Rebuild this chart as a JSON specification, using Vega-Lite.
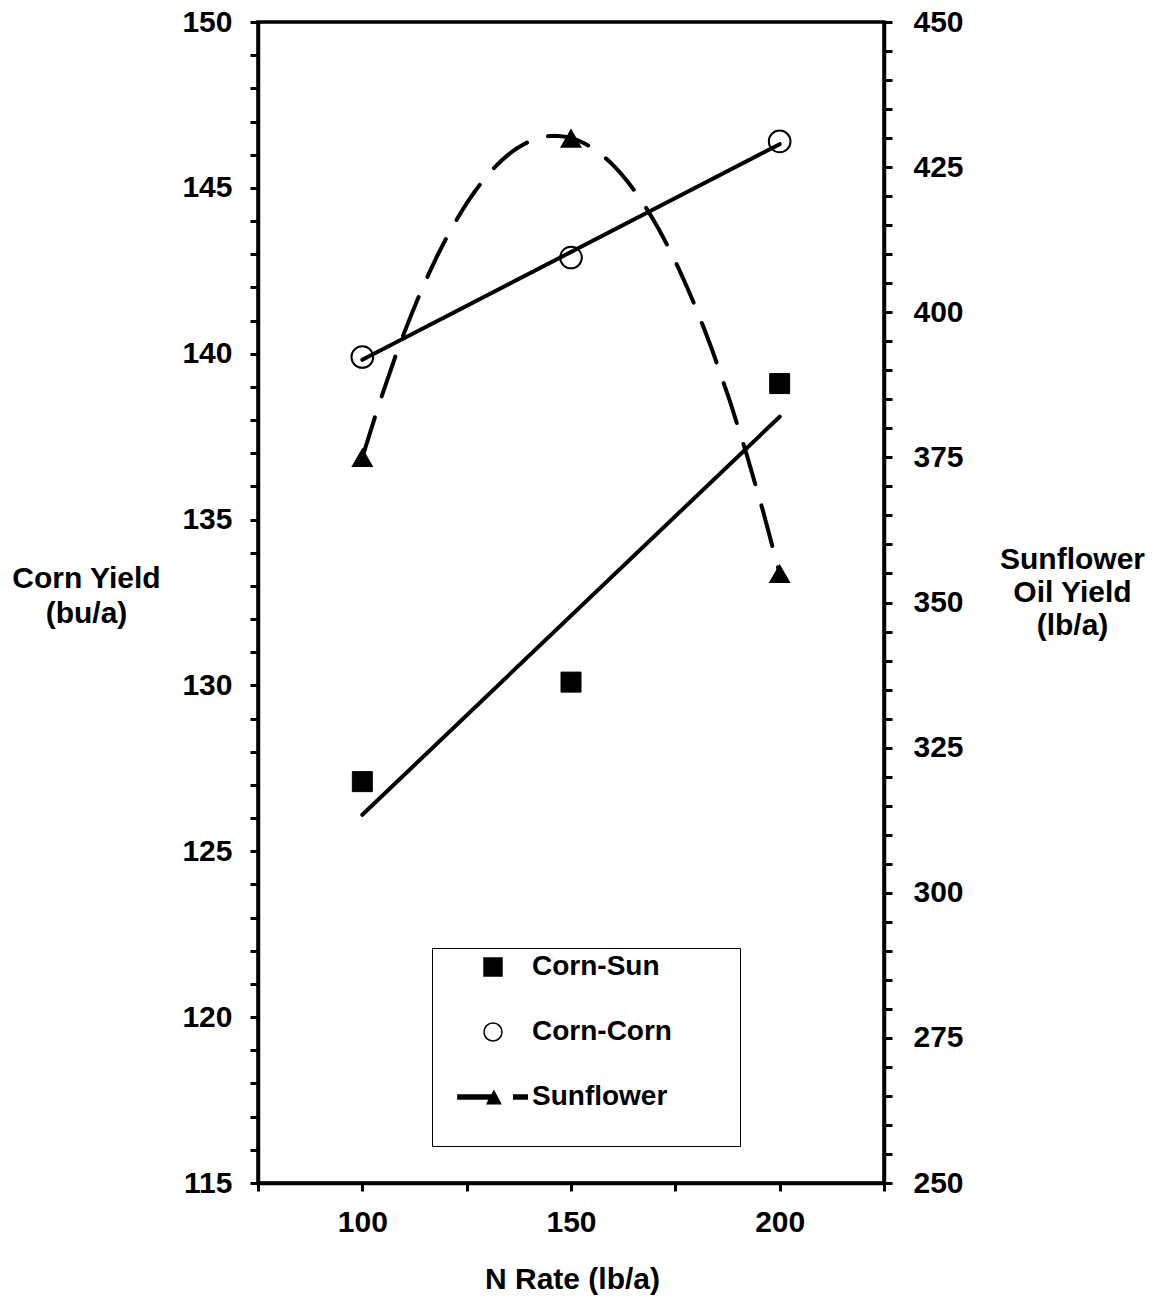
{
  "$schema": "https://vega.github.io/schema/vega-lite/v6.json",
  "width": 626,
  "height": 1161,
  "autosize": "none",
  "padding": {"left": 258, "top": 22, "right": 272, "bottom": 116},
  "background": "white",
  "data": {
    "values": [
      {"series": "Corn-Sun", "n": 100, "value": 127.1},
      {"series": "Corn-Sun", "n": 150, "value": 130.1},
      {"series": "Corn-Sun", "n": 200, "value": 139.1},
      {"series": "Corn-Corn", "n": 100, "value": 139.9},
      {"series": "Corn-Corn", "n": 150, "value": 142.9},
      {"series": "Corn-Corn", "n": 200, "value": 146.4},
      {"series": "Sunflower", "n": 100, "value": 375},
      {"series": "Sunflower", "n": 150, "value": 430},
      {"series": "Sunflower", "n": 200, "value": 355}
    ]
  },
  "encoding": {
    "x": {
      "field": "n",
      "type": "quantitative",
      "scale": {"domain": [75, 225], "nice": false, "zero": false},
      "axis": {
        "values": [75, 100, 125, 150, 175, 200, 225],
        "labelExpr": "datum.value % 50 === 0 ? datum.label : ''",
        "tickSize": 8,
        "tickWidth": 3,
        "tickColor": "black",
        "domainColor": "black",
        "domainWidth": 3.5,
        "grid": false,
        "labelFont": "Liberation Sans",
        "labelFontSize": 30,
        "labelFontWeight": "bold",
        "labelColor": "black",
        "labelBaseline": "alphabetic",
        "labelPadding": 40,
        "labelOverlap": false,
        "labelFlush": false,
        "title": "N Rate (lb/a)",
        "titleFont": "Liberation Sans",
        "titleFontSize": 30,
        "titleFontWeight": "bold",
        "titleColor": "black",
        "titleX": 314,
        "titleY": 105,
        "titleAlign": "center",
        "titleBaseline": "alphabetic",
        "encode": {"ticks": {"update": {"y": {"value": -5}, "y2": {"value": 8}}}}
      }
    }
  },
  "layer": [
    {
      "encoding": {
        "y": {
          "field": "value",
          "type": "quantitative",
          "scale": {"domain": [115, 150], "nice": false, "zero": false},
          "axis": {
            "orient": "left",
            "values": [115,116,117,118,119,120,121,122,123,124,125,126,127,128,129,130,131,132,133,134,135,136,137,138,139,140,141,142,143,144,145,146,147,148,149,150],
            "labelExpr": "datum.value % 5 === 0 ? datum.label : ''",
            "tickSize": 8,
            "tickWidth": 3,
            "tickColor": "black",
            "domainColor": "black",
            "domainWidth": 3.5,
            "grid": false,
            "labelFont": "Liberation Sans",
            "labelFontSize": 30,
            "labelFontWeight": "bold",
            "labelColor": "black",
            "labelPadding": 18,
            "labelOverlap": false,
            "labelFlush": false,
            "title": ["Corn Yield", "(bu/a)"],
            "titleFont": "Liberation Sans",
            "titleFontSize": 30,
            "titleFontWeight": "bold",
            "titleColor": "black",
            "titleAngle": 0,
            "titleX": -172,
            "titleY": 565,
            "titleAlign": "center",
            "titleBaseline": "alphabetic",
            "titleLineHeight": 35
          }
        }
      },
      "layer": [
        {
          "transform": [{"filter": "datum.series === 'Corn-Sun'"}],
          "mark": {"type": "point", "filled": true, "size": 400, "strokeWidth": 1, "opacity": 1},
          "encoding": {
            "shape": {
              "field": "series", "type": "nominal",
              "scale": {"domain": ["Corn-Sun", "Corn-Corn", "Sunflower"], "range": ["square", "circle", "M-3.9,-0.22H-0.2V0.22H-3.9ZM2.3,-0.22H3.8V0.22H2.3ZM0.1,-0.65L0.85,0.75L-0.65,0.75Z"]},
              "legend": {
                "title": "\u00a0",
                "titleOrient": "bottom",
                "titleFontSize": 20,
                "titlePadding": 10,
                "labelExpr": "datum.label + '\u2800\u2800\u2800'",
                "symbolOffset": 42,
                "labelOffset": 25
              }
            },
            "fill": {
              "field": "series", "type": "nominal",
              "scale": {"domain": ["Corn-Sun", "Corn-Corn", "Sunflower"], "range": ["black", "white", "black"]},
              "legend": {
                "title": "\u00a0",
                "titleOrient": "bottom",
                "titleFontSize": 20,
                "titlePadding": 10,
                "labelExpr": "datum.label + '\u2800\u2800\u2800'",
                "symbolOffset": 42,
                "labelOffset": 25
              }
            },
            "stroke": {
              "field": "series", "type": "nominal",
              "scale": {"domain": ["Corn-Sun", "Corn-Corn", "Sunflower"], "range": ["black", "black", "black"]},
              "legend": {
                "title": "\u00a0",
                "titleOrient": "bottom",
                "titleFontSize": 20,
                "titlePadding": 10,
                "labelExpr": "datum.label + '\u2800\u2800\u2800'",
                "symbolOffset": 42,
                "labelOffset": 25
              }
            }
          }
        },
        {
          "transform": [{"filter": "datum.series === 'Corn-Corn'"}],
          "mark": {"type": "point", "filled": true, "size": 470, "strokeWidth": 2, "opacity": 1},
          "encoding": {
            "shape": {"field": "series", "type": "nominal"},
            "fill": {"field": "series", "type": "nominal"},
            "stroke": {"field": "series", "type": "nominal"}
          }
        },
        {
          "transform": [{"filter": "datum.series === 'Corn-Sun'"}, {"regression": "value", "on": "n"}],
          "mark": {"type": "line", "color": "black", "strokeWidth": 4, "strokeCap": "round"},
          "encoding": {}
        },
        {
          "transform": [{"filter": "datum.series === 'Corn-Corn'"}, {"regression": "value", "on": "n"}],
          "mark": {"type": "line", "color": "black", "strokeWidth": 4, "strokeCap": "round"},
          "encoding": {}
        }
      ]
    },
    {
      "encoding": {
        "y": {
          "field": "value",
          "type": "quantitative",
          "scale": {"domain": [250, 450], "nice": false, "zero": false},
          "axis": {
            "orient": "right",
            "values": [250,255,260,265,270,275,280,285,290,295,300,305,310,315,320,325,330,335,340,345,350,355,360,365,370,375,380,385,390,395,400,405,410,415,420,425,430,435,440,445,450],
            "labelExpr": "datum.value % 25 === 0 ? datum.label : ''",
            "tickSize": 8,
            "tickWidth": 3,
            "tickColor": "black",
            "domainColor": "black",
            "domainWidth": 3.5,
            "grid": false,
            "labelFont": "Liberation Sans",
            "labelFontSize": 30,
            "labelFontWeight": "bold",
            "labelColor": "black",
            "labelPadding": 21,
            "labelOverlap": false,
            "labelFlush": false,
            "title": ["Sunflower", "Oil Yield", "(lb/a)"],
            "titleFont": "Liberation Sans",
            "titleFontSize": 30,
            "titleFontWeight": "bold",
            "titleColor": "black",
            "titleAngle": 0,
            "titleX": 188,
            "titleY": 546,
            "titleAlign": "center",
            "titleBaseline": "alphabetic",
            "titleLineHeight": 33
          }
        }
      },
      "layer": [
        {
          "transform": [{"filter": "datum.series === 'Sunflower'"}],
          "mark": {"type": "point", "filled": true, "shape": "triangle-up", "size": 484, "color": "black", "opacity": 1},
          "encoding": {}
        },
        {
          "transform": [{"filter": "datum.series === 'Sunflower'"}, {"regression": "value", "on": "n", "method": "poly", "order": 2}],
          "mark": {"type": "line", "color": "black", "strokeWidth": 4, "strokeCap": "round", "strokeDash": [42, 22]},
          "encoding": {}
        }
      ]
    }
  ],
  "resolve": {"scale": {"y": "independent"}},
  "config": {
    "view": {"stroke": "black", "strokeWidth": 3.5},
    "legend": {
      "orient": "none",
      "legendX": 174,
      "legendY": 926,
      "padding": 5,
      "strokeColor": "black",
      "strokeWidth": 1,
      "fillColor": "white",
      "symbolSize": 324,
      "symbolStrokeWidth": 1.5,
      "symbolStrokeColor": "black",
      "labelFont": "Liberation Sans",
      "labelFontSize": 28,
      "labelFontWeight": "bold",
      "labelColor": "black",
      "labelLimit": 400,
      "rowPadding": 37
    }
  }
}
